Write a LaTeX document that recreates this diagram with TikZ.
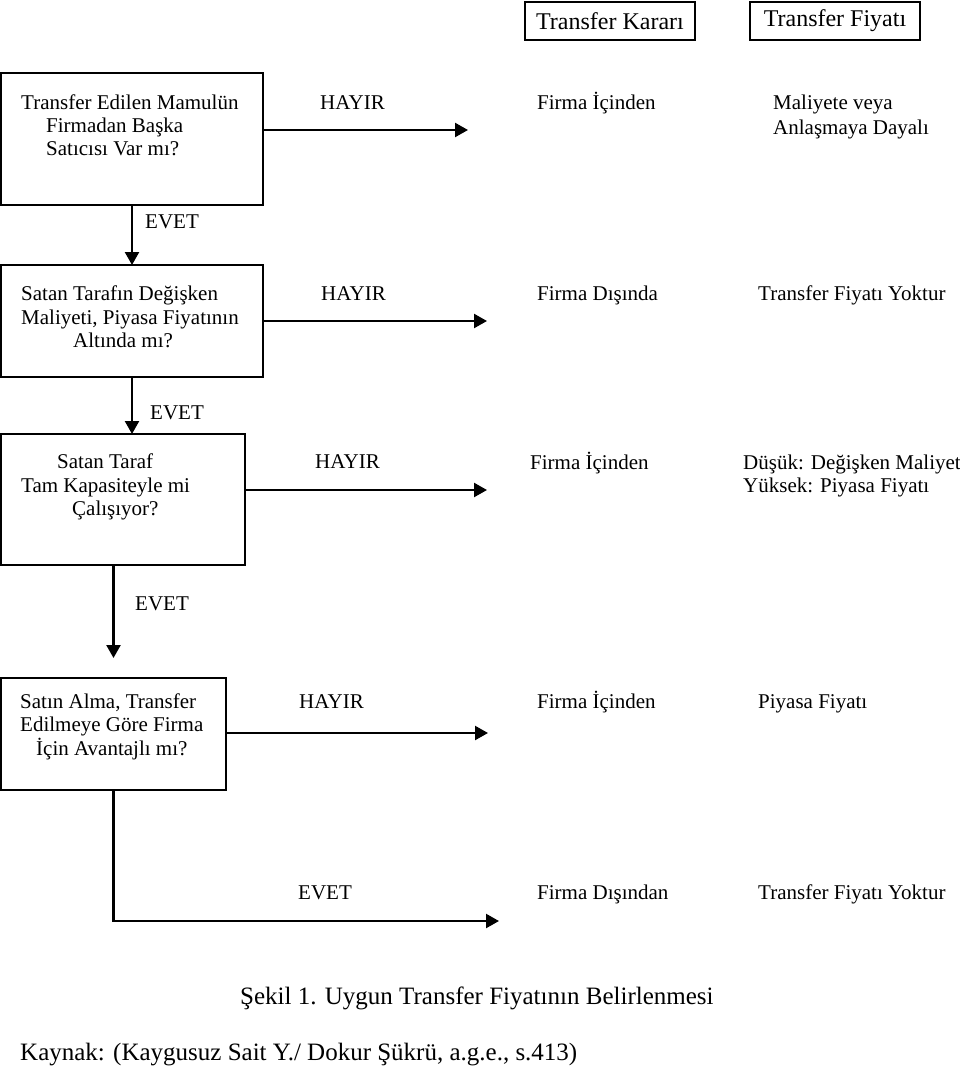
\documentclass[tikz,border=0pt]{standalone}
\usepackage{fontspec}
\setmainfont{Liberation Serif}
\usetikzlibrary{arrows.meta}
\begin{document}
\begin{tikzpicture}[x=1pt,y=-1pt,
  box/.style={draw, line width=2.3pt, inner sep=0pt, outer sep=0pt, anchor=north west},
  hbox/.style={draw, line width=1.8pt, inner sep=0pt, outer sep=0pt, minimum width=170pt, minimum height=38pt, font=\fontsize{24}{28}\selectfont},
  txt/.style={inner sep=0pt, anchor=base west, font=\fontsize{21}{25}\selectfont},
  captxt/.style={inner sep=0pt, anchor=base west, font=\fontsize{25}{29}\selectfont},
  arr/.style={-{Triangle[length=13pt,width=14pt]}, line width=2.3pt}]
\useasboundingbox (0,0) rectangle (960,1068);
\fill[white] (0,0) rectangle (960,1068);

% header
\node[hbox] (hk) at (610,21) {Transfer Kararı};
\node[hbox] (hf) at (835,21) {Transfer Fiyatı};

% decision boxes
\node[box, minimum width=262pt, minimum height=132pt] (b1) at (1,73) {};
\node[box, minimum width=262pt, minimum height=112pt] (b2) at (1,265) {};
\node[box, minimum width=244pt, minimum height=131pt] (b3) at (1,434) {};
\node[box, minimum width=225pt, minimum height=112pt] (b4) at (1,678) {};

% box texts
\node[txt] (b1l1) at (21,109) {Transfer Edilen Mamulün};
\node[txt] (b1l2) at (46,132) {Firmadan Başka};
\node[txt] (b1l3) at (46,155) {Satıcısı Var mı?};

\node[txt] (b2l1) at (21,300) {Satan Tarafın Değişken};
\node[txt] (b2l2) at (21,324) {Maliyeti, Piyasa Fiyatının};
\node[txt] (b2l3) at (73,347) {Altında mı?};

\node[txt] (b3l1) at (57,468) {Satan Taraf};
\node[txt] (b3l2) at (21,492) {Tam Kapasiteyle mi};
\node[txt] (b3l3) at (72,515) {Çalışıyor?};

\node[txt] (b4l1) at (20,708) {Satın Alma, Transfer};
\node[txt] (b4l2) at (20,731) {Edilmeye Göre Firma};
\node[txt] (b4l3) at (36,755) {İçin Avantajlı mı?};

% row 1
\node[txt] (h1) at (320,109) {HAYIR};
\node[txt] (k1) at (537,109) {Firma İçinden};
\node[txt] (f1a) at (773,109) {Maliyete veya};
\node[txt] (f1b) at (773,134) {Anlaşmaya Dayalı};
\node[txt] (e1) at (145,228) {EVET};

% row 2
\node[txt] (h2) at (321,300) {HAYIR};
\node[txt] (k2) at (537,300) {Firma Dışında};
\node[txt] (f2) at (758,300) {Transfer Fiyatı Yoktur};
\node[txt] (e2) at (150,419) {EVET};

% row 3
\node[txt] (h3) at (315,468) {HAYIR};
\node[txt] (k3) at (530,469) {Firma İçinden};
\node[txt] (f3a) at (743,469) {Düşük: Değişken Maliyet};
\node[txt] (f3b) at (743,492) {Yüksek: Piyasa Fiyatı};
\node[txt] (e3) at (135,610) {EVET};

% row 4
\node[txt] (h4) at (299,708) {HAYIR};
\node[txt] (k4) at (537,708) {Firma İçinden};
\node[txt] (f4) at (758,708) {Piyasa Fiyatı};

% bottom row
\node[txt] (e4) at (298,899) {EVET};
\node[txt] (k5) at (537,899) {Firma Dışından};
\node[txt] (f5) at (758,899) {Transfer Fiyatı Yoktur};

% captions
\node[captxt] (c1) at (240,1004) {Şekil 1. Uygun Transfer Fiyatının Belirlenmesi};
\node[captxt] (c2) at (20,1060) {Kaynak: (Kaygusuz Sait Y./ Dokur Şükrü, a.g.e., s.413)};

% connectors
\coordinate (t1) at (468,130);
\coordinate (t2) at (487,321);
\coordinate (t3) at (487,490);
\coordinate (t4) at (488,733);
\coordinate (v3) at (113.5,658);
\coordinate (t5) at (499,921);

\draw[arr] (b1.east |- t1) -- (t1);
\draw[arr] (b2.east |- t2) -- (t2);
\draw[arr] (b3.east |- t3) -- (t3);
\draw[arr] (b4.east |- t4) -- (t4);

\draw[arr] (b1.south) -- (b2.north);
\draw[arr] (b2.south) -- (b2.south |- b3.north);
\draw[arr] (v3 |- b3.south) -- (v3);
\draw[arr] (b4.south) -- (b4.south |- t5) -- (t5);
\end{tikzpicture}
\end{document}
